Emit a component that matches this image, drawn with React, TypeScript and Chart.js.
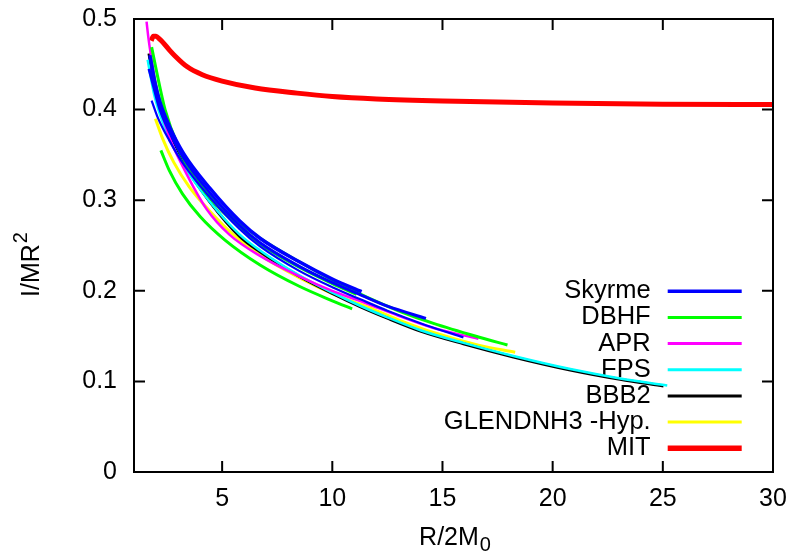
import React, { useEffect, useRef } from "react";
import { Chart, registerables } from "chart.js";

Chart.register(...registerables);

type Pt = [number, number];

// ---------- data ----------
const skyrmeA: Pt[] = [[1.72,0.46],[1.95,0.43],[2.18,0.408],[2.6,0.382],[3.24,0.352],[4.45,0.313],[5.8,0.277],[6.72,0.258],[8.5,0.232],[10,0.213],[11.33,0.199]];
const skyrmeB: Pt[] = [[1.68,0.445],[1.95,0.42],[2.18,0.4],[2.6,0.376],[3.24,0.347],[4.45,0.308],[5.8,0.272],[6.72,0.253],[8.5,0.227],[10,0.209],[11.33,0.195],[12.5,0.183],[14.25,0.1696]];
const skyrmeC: Pt[] = [[1.8,0.41],[2.1,0.39],[2.6,0.366],[3.24,0.34],[4.45,0.303],[5.8,0.268],[6.72,0.249],[8.5,0.222],[10,0.204],[11.33,0.19],[12.5,0.178],[14.25,0.162],[15.95,0.1486]];
const dbhfA: Pt[] = [[1.8,0.469],[2.0,0.445],[2.41,0.4],[3.0,0.36],[3.8,0.327],[4.8,0.297],[5.8,0.275],[6.72,0.258],[8.5,0.232],[10,0.212],[11.56,0.193],[13,0.178],[14.59,0.164],[16.63,0.149],[17.95,0.1402]];
const dbhfB: Pt[] = [[1.75,0.455],[2.0,0.425],[2.4,0.393],[3.0,0.357],[3.8,0.323],[4.8,0.293],[5.8,0.27],[6.72,0.252],[8.5,0.226],[10,0.208],[11.1,0.196]];
const dbhfC: Pt[] = [[2.22,0.355],[2.6,0.333],[3.2,0.307],[4.0,0.282],[5.13,0.256],[6.72,0.2285],[8.5,0.205],[10,0.189],[10.9,0.18]];
const apr: Pt[] = [[1.57,0.497],[1.66,0.478],[1.78,0.458],[1.95,0.433],[2.2,0.402],[2.6,0.37],[3.24,0.336],[4.3,0.29],[5.33,0.262],[6.72,0.2385],[8.5,0.216],[10,0.2],[11.56,0.186],[13,0.1725],[14.59,0.159],[16.63,0.147]];
const fps: Pt[] = [[1.62,0.455],[1.75,0.437],[1.9,0.418],[2.2,0.393],[2.6,0.368],[3.24,0.339],[4.45,0.298],[5.8,0.262],[6.72,0.2445],[8.5,0.217],[10,0.198],[11.26,0.1835],[12.47,0.171],[14,0.1565],[15.95,0.1425],[18.22,0.128],[20.8,0.1136],[23.06,0.1033],[25.2,0.0955]];
const bbb2: Pt[] = [[1.68,0.462],[1.8,0.444],[1.95,0.424],[2.18,0.4],[2.6,0.372],[3.24,0.341],[4.45,0.298],[5.8,0.26],[6.72,0.243],[8.5,0.216],[10,0.197],[11.26,0.1825],[12.47,0.17],[14,0.1555],[15.95,0.1415],[18.22,0.127],[20.8,0.1126],[23.06,0.1023],[25.03,0.095]];
const glendnh3: Pt[] = [[1.97,0.39],[2.3,0.368],[2.8,0.342],[3.5,0.315],[4.4,0.289],[5.51,0.262],[6.72,0.2395],[8.5,0.2145],[10,0.197],[11.56,0.1825],[13,0.168],[14.59,0.154],[16.63,0.14],[18.3,0.1321]];
const mit: Pt[] = [[1.78,0.476],[1.88,0.481],[2.0,0.481],[2.15,0.478],[2.3,0.4745],[2.6,0.466],[2.85,0.4595],[3.4,0.4475],[4.1,0.4385],[5.0,0.4315],[6.5,0.4238],[8.4,0.4182],[10,0.4145],[12,0.4118],[15,0.4095],[20,0.4072],[25,0.406],[30,0.4055]];

const legendLabels = ["Skyrme", "DBHF", "APR", "FPS", "BBB2", "GLENDNH3 -Hyp.", "MIT"];
const xTicks = [5, 10, 15, 20, 25, 30];
const yTicks = [0, 0.1, 0.2, 0.3, 0.4, 0.5];
const yTickLabels = ["0", "0.1", "0.2", "0.3", "0.4", "0.5"];

// ---------- styling ----------
const FONT = "'Liberation Sans', Arial, Helvetica, sans-serif";
const COLORS = ["#0000ff", "#00ff00", "#ff00ff", "#00ffff", "#000000", "#ffff00", "#ff0000"];
const LEG_WIDTH = [3.5, 3, 3, 3, 3, 3, 5.5];

const series: { pts: Pt[]; group: number; width: number }[] = [
  { pts: skyrmeA, group: 0, width: 3.5 },
  { pts: skyrmeB, group: 0, width: 3 },
  { pts: skyrmeC, group: 0, width: 2.2 },
  { pts: dbhfA, group: 1, width: 3 },
  { pts: dbhfB, group: 1, width: 3 },
  { pts: dbhfC, group: 1, width: 3 },
  { pts: apr, group: 2, width: 2.5 },
  { pts: fps, group: 3, width: 2.5 },
  { pts: bbb2, group: 4, width: 3 },
  { pts: glendnh3, group: 5, width: 3 },
  { pts: mit, group: 6, width: 5 },
];

const framePlugin = {
  id: "gnuplotFrame",
  beforeDatasetsDraw(chart: any) {
    const { ctx, chartArea: a } = chart;
    ctx.save();
    ctx.font = `25.5px ${FONT}`;
    ctx.textAlign = "right";
    ctx.textBaseline = "middle";
    ctx.fillStyle = "#000";
    const textRight = a.right - 122.3;
    const lineStart = a.right - 105.3;
    const lineEnd = a.right - 31.3;
    const top = a.bottom - 180.7;
    const step = 26.15;
    legendLabels.forEach((label, i) => {
      const y = top + i * step;
      ctx.fillText(label, textRight, y);
      ctx.strokeStyle = COLORS[i];
      ctx.lineWidth = LEG_WIDTH[i];
      ctx.beginPath();
      ctx.moveTo(lineStart, y);
      ctx.lineTo(lineEnd, y);
      ctx.stroke();
    });
    ctx.restore();
  },
  afterDraw(chart: any) {
    const { ctx, chartArea: a, scales } = chart;
    const xs = scales.x;
    const ys = scales.y;
    ctx.save();
    ctx.strokeStyle = "#000";
    ctx.lineWidth = 2;
    ctx.strokeRect(a.left, a.top, a.right - a.left, a.bottom - a.top);
    const tl = 11;
    ctx.beginPath();
    xTicks.forEach((v) => {
      const px = xs.getPixelForValue(v);
      ctx.moveTo(px, a.bottom);
      ctx.lineTo(px, a.bottom - tl);
      ctx.moveTo(px, a.top);
      ctx.lineTo(px, a.top + tl);
    });
    yTicks.forEach((v) => {
      const py = ys.getPixelForValue(v);
      ctx.moveTo(a.left, py);
      ctx.lineTo(a.left + tl, py);
      ctx.moveTo(a.right, py);
      ctx.lineTo(a.right - tl, py);
    });
    ctx.stroke();

    // axis titles
    ctx.fillStyle = "#000";
    ctx.textBaseline = "alphabetic";
    ctx.textAlign = "left";
    ctx.font = `25px ${FONT}`;
    const xMain = "R/2M";
    const wMain = ctx.measureText(xMain).width;
    ctx.font = `20px ${FONT}`;
    const wSub = ctx.measureText("0").width;
    const cx = (a.left + a.right) / 2 + 1;
    const startX = cx - (wMain + wSub) / 2;
    ctx.font = `25px ${FONT}`;
    ctx.fillText(xMain, startX, 545);
    ctx.font = `20px ${FONT}`;
    ctx.fillText("0", startX + wMain + 1, 551);

    // y title rotated
    ctx.save();
    ctx.translate(38.5, 297);
    ctx.rotate(-Math.PI / 2);
    ctx.font = `25px ${FONT}`;
    const yMain = "I/MR";
    const wy = ctx.measureText(yMain).width;
    ctx.fillText(yMain, 0, 0);
    ctx.font = `20px ${FONT}`;
    ctx.fillText("2", wy + 1, -12);
    ctx.restore();
    ctx.restore();
  },
};

export default function App() {
  const ref = useRef<HTMLCanvasElement | null>(null);
  useEffect(() => {
    if (!ref.current) return;
    const datasets = series.map((s) => ({
      label: legendLabels[s.group],
      data: s.pts.map(([x, y]) => ({ x, y })),
      showLine: true,
      borderColor: COLORS[s.group],
      backgroundColor: COLORS[s.group],
      borderWidth: s.width,
      pointRadius: 0,
      pointHoverRadius: 0,
      fill: false,
      cubicInterpolationMode: "monotone" as const,
      borderCapStyle: "butt" as const,
      borderJoinStyle: "round" as const,
    }));
    const chart = new Chart(ref.current, {
      type: "scatter",
      data: { datasets },
      options: {
        responsive: false,
        animation: false,
        devicePixelRatio: 1,
        layout: { padding: { top: 19, right: 21, left: 0, bottom: 0 } },
        plugins: { legend: { display: false }, tooltip: { enabled: false }, title: { display: false } },
        scales: {
          x: {
            type: "linear",
            min: 1,
            max: 30,
            afterBuildTicks: (scale: any) => {
              scale.ticks = xTicks.map((v) => ({ value: v }));
            },
            afterFit: (scale: any) => {
              scale.height = 80;
              scale.paddingLeft = 0;
              scale.paddingRight = 0;
            },
            ticks: {
              font: { family: FONT, size: 25 },
              color: "#000",
              padding: 12.5,
              maxRotation: 0,
              autoSkip: false,
              callback: (v: any) => String(v),
            },
            grid: { display: false, drawTicks: false },
            border: { display: false },
          },
          y: {
            type: "linear",
            min: 0,
            max: 0.5,
            afterBuildTicks: (scale: any) => {
              scale.ticks = yTicks.map((v) => ({ value: v }));
            },
            afterFit: (scale: any) => {
              scale.width = 134;
              scale.paddingTop = 0;
              scale.paddingBottom = 0;
            },
            ticks: {
              font: { family: FONT, size: 25 },
              color: "#000",
              padding: 17,
              autoSkip: false,
              callback: (v: any) => {
                const i = yTicks.findIndex((t) => Math.abs(t - Number(v)) < 1e-9);
                return i >= 0 ? yTickLabels[i] : "";
              },
            },
            grid: { display: false, drawTicks: false },
            border: { display: false },
          },
        },
      },
      plugins: [framePlugin],
    });
    return () => chart.destroy();
  }, []);
  return (
    <div style={{ position: "absolute", left: 0, top: 0, width: 794, height: 552, background: "#fff" }}>
      <canvas ref={ref} width={794} height={552} style={{ display: "block", width: 794, height: 552 }} />
    </div>
  );
}
